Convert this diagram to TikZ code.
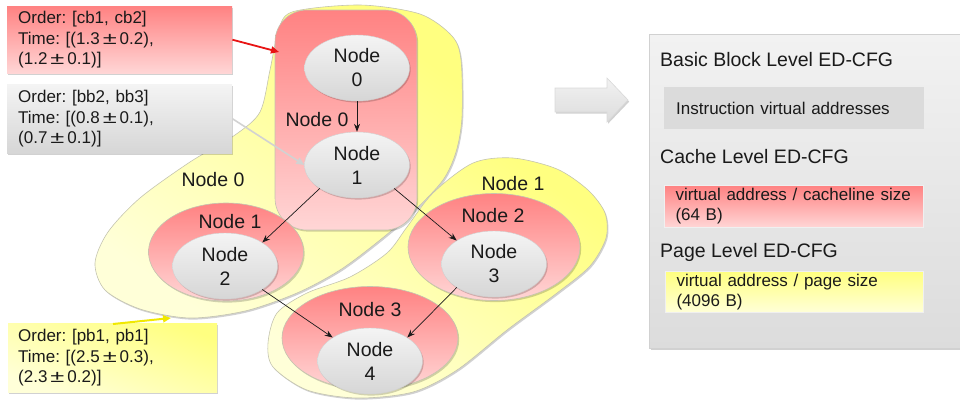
\documentclass[tikz,border=0pt]{standalone}
\usepackage{fontspec}
\usepackage{graphicx}
\setmainfont{Liberation Sans}
\usetikzlibrary{shadows,arrows.meta,shapes.geometric}
\frenchspacing

\definecolor{txt}{HTML}{1A1A1A}
\definecolor{redtop}{HTML}{FF8282}
\definecolor{redbot}{HTML}{FFD6D6}
\definecolor{yeltop}{HTML}{FFFF80}
\definecolor{yelbot}{HTML}{FFFFD8}
\definecolor{greytop}{HTML}{F4F4F4}
\definecolor{greybot}{HTML}{D6D6D6}
\definecolor{paneltop}{HTML}{F2F2F2}
\definecolor{panelbot}{HTML}{DCDCDC}
\definecolor{rim}{HTML}{C4C4B0}
\definecolor{callred}{HTML}{E81414}
\definecolor{callgrey}{HTML}{D2D2D2}
\definecolor{callyel}{HTML}{F0E800}

% wide plus-minus sign with a little air on both sides
\newcommand{\pmsign}{\kern3pt\scalebox{1.5}[1]{±}\kern3pt}

\begin{document}
\begin{tikzpicture}[x=1pt,y=-1pt,
  soft/.style={drop shadow={shadow xshift=1.2pt,shadow yshift=-1.6pt,fill=black,opacity=0.18}},
  blob/.style={draw=rim,line width=0.6pt,top color=yeltop,bottom color=yelbot,shading angle=-35,soft},
  pinkgroup/.style={draw=rim,line width=0.6pt,top color=redtop,bottom color=redbot,soft,inner sep=0pt},
  gnode/.style={ellipse,minimum width=105pt,minimum height=66pt,inner sep=0pt,draw=black!18,
    top color=greytop,bottom color=greybot,soft,align=center,text=txt,
    font=\fontsize{19.5}{24}\selectfont},
  grouplabel/.style={font=\fontsize{19.5}{23}\selectfont,text=txt,inner sep=0pt},
  heading/.style={anchor=base west,font=\fontsize{19.5}{23}\selectfont,text=txt,inner sep=0pt},
  infobox/.style={anchor=north west,inner xsep=11pt,inner ysep=0pt,align=left,
    font=\fontsize{17}{20.5}\selectfont,text=txt,soft},
  edge/.style={-{Stealth[length=8pt,width=6pt]},line width=0.7pt,draw=txt},
]
\useasboundingbox (0,0) rectangle (960,400);

% page-level groups
\path[blob] plot[smooth cycle] coordinates {
  (95,263) (108,232) (140,198) (190,162) (235,135) (260,112) (270,70) (278,33)
  (292,12) (360,5) (420,14) (452,36) (461,60) (462,117) (456,152) (443,180)
  (415,210) (380,240) (340,270) (297,293) (245,311) (190,318) (140,309) (105,290)};
\path[blob] plot[smooth cycle] coordinates {
  (513,158) (557,169) (588,190) (605,213) (606,238) (590,266) (557,293) (507,330)
  (457,370) (413,392) (357,398) (307,390) (273,367) (268,343) (277,313) (307,293)
  (350,277) (387,253) (407,227) (433,193) (473,163)};

% cache-level groups
\node[pinkgroup,rectangle,rounded corners=32pt,minimum width=142pt,minimum height=220pt] (grp0) at (346,120) {};
\node[pinkgroup,ellipse,minimum width=155pt,minimum height=98pt] (grp1) at (226,252) {};
\node[pinkgroup,ellipse,minimum width=172pt,minimum height=107pt] (grp2) at (494,247) {};
\node[pinkgroup,ellipse,minimum width=176pt,minimum height=103pt] (grp3) at (370,338) {};

% group labels
\node[grouplabel] (lp0) at (213,180) {Node 0};
\node[grouplabel] (lp1) at (513,184) {Node 1};
\node[grouplabel] (lc0) at (317,120) {Node 0};
\node[grouplabel] (lc1) at (230,222) {Node 1};
\node[grouplabel] (lc2) at (493,216) {Node 2};
\node[grouplabel] (lc3) at (370,310) {Node 3};

% basic blocks
\node[gnode] (n0) at (357,68)  {Node\\0};
\node[gnode] (n1) at (357,165) {Node\\1};
\node[gnode] (n2) at (225,266) {Node\\2};
\node[gnode] (n3) at (494,264) {Node\\3};
\node[gnode] (n4) at (370,361) {Node\\4};

\draw[edge] (n0.south) -- (n1.north);
\draw[edge] (n1.south west) -- (n2.north east);
\draw[edge] (n1.south east) -- (n3.north west);
\draw[edge] (n2.south east) -- (n4.north west);
\draw[edge] (n3.south west) -- (n4.north east);

% annotation boxes
\node[infobox,minimum width=225pt,minimum height=67pt,text width=203pt,
  top color=redtop,bottom color=redbot] (cbbox) at (7,6)
  {Order: [cb1, cb2]\\Time: [(1.3\pmsign0.2),\\(1.2\pmsign0.1)]};
\node[infobox,minimum width=225pt,minimum height=69pt,text width=203pt,
  top color=greytop,bottom color=greybot] (bbbox) at (7,84)
  {Order: [bb2, bb3]\\Time: [(0.8\pmsign0.1),\\(0.7\pmsign0.1)]};
\node[infobox,minimum width=209pt,minimum height=69pt,text width=189pt,inner xsep=10pt,
  top color=yeltop,bottom color=yelbot,shading angle=-20] (pbbox) at (8,323)
  {Order: [pb1, pb1]\\Time: [(2.5\pmsign0.3),\\(2.3\pmsign0.2)]};

\coordinate (redtip) at (279,52);
\coordinate (yelstart) at (113,324);
\coordinate (yeltip) at (171,318);
\draw[-{Triangle[length=8pt,width=7pt]},line width=1.8pt,callred] (cbbox.east) -- (redtip);
\draw[-{Triangle[length=8pt,width=7pt]},line width=1.6pt,callgrey] (bbbox.east) -- (n1.west);
\draw[-{Triangle[length=8pt,width=7pt]},line width=2pt,callyel] (yelstart) -- (yeltip);

% transformation arrow
\path[draw=black!15,line width=0.6pt,top color=paneltop,bottom color=panelbot,soft]
  (555,88) -- (607,88) -- (607,78) -- (628,100) -- (607,122) -- (607,112) -- (555,112) -- cycle;

% ED-CFG levels
\node[anchor=north west,minimum width=330pt,minimum height=314pt,inner sep=0pt,
  draw=black!18,line width=0.6pt,top color=paneltop,bottom color=panelbot,soft] (panel) at (649,34) {};
\node[heading] (h1) at (660,66)  {Basic Block Level ED-CFG};
\node[heading] (h2) at (660,163) {Cache Level ED-CFG};
\node[heading] (h3) at (660,257) {Page Level ED-CFG};

\node[anchor=north west,minimum width=260pt,minimum height=42pt,text width=236pt,inner xsep=12pt,
  inner ysep=0pt,fill=black!14,align=left,text=txt,font=\fontsize{17}{20.5}\selectfont] (ibox) at (664,87)
  {Instruction virtual addresses};
\node[anchor=north west,minimum width=259pt,minimum height=42pt,text width=237pt,inner xsep=11pt,
  inner ysep=0pt,draw=black!6,line width=1pt,top color=redtop,bottom color=redbot,align=left,text=txt,
  font=\fontsize{17}{20}\selectfont] (cbox) at (664,185)
  {virtual address / cacheline size\\(64 B)};
\node[anchor=north west,minimum width=258pt,minimum height=41pt,text width=236pt,inner xsep=11pt,
  inner ysep=0pt,draw=black!6,line width=1pt,top color=yeltop,bottom color=yelbot,align=left,text=txt,
  font=\fontsize{17}{20}\selectfont] (pbox) at (665,271)
  {virtual address / page size\\(4096 B)};
\end{tikzpicture}
\end{document}
